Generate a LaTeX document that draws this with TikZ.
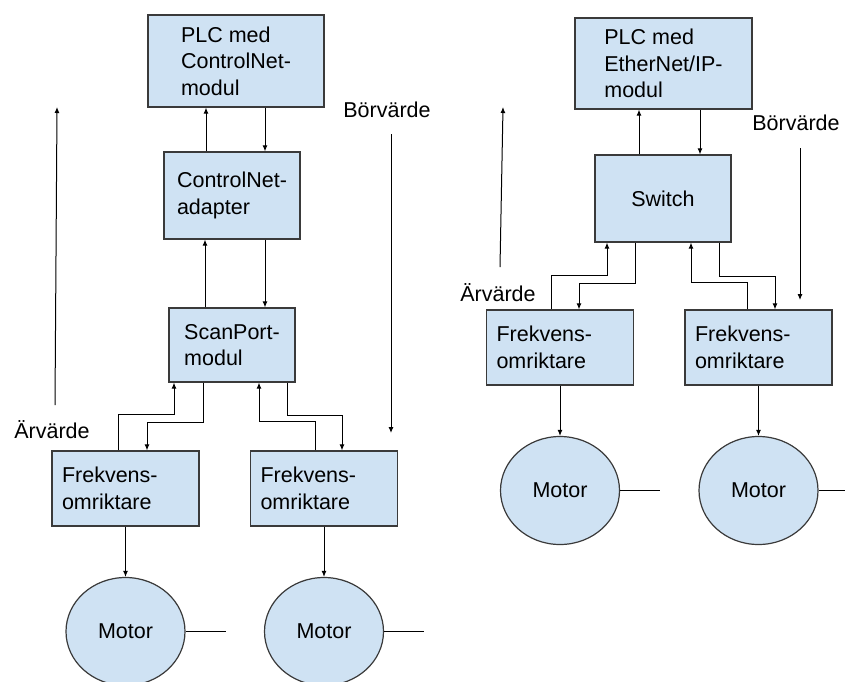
\documentclass[tikz,border=0pt]{standalone}
\usepackage{fontspec}
\setmainfont{Liberation Sans}
\usetikzlibrary{positioning,shapes.geometric,arrows.meta}
\definecolor{boxblue}{HTML}{CFE2F3}
\definecolor{rim}{HTML}{3A3A3A}

\begin{document}
\begin{tikzpicture}[
                            x=1pt, y=1pt,
                            node distance=143pt,
                            >={Latex[length=6pt,width=5pt]},
                            font=\fontsize{21.5pt}{26.5pt}\selectfont,
                            block/.style={draw=rim, fill=boxblue, line width=1.2pt, align=left, inner sep=0pt},
                            frek/.style={block, text width=127pt, inner sep=10pt, minimum height=75pt},
                            motor/.style={draw=rim, fill=boxblue, line width=1.2pt, ellipse, inner sep=0pt, minimum width=119pt, minimum height=108pt},
                            wire/.style={line width=1pt}
                            ]

                            \clip (0,0) rectangle (845,-681);

                            % ControlNet
                            \node [block, minimum width=176pt, minimum height=92pt] (plc1) at (236,-61) {PLC med\\ControlNet-\\modul};
                            \node [block, minimum width=136pt, minimum height=87pt] (adapter) at (232,-195.5) {ControlNet-\\adapter};
                            \node [block, minimum width=126pt, minimum height=74pt] (scan) at (232,-345) {ScanPort-\\modul};

                            \node [frek] (frek1) at (125.5,-488.5) {Frekvens-\\omriktare};
                            \node [frek] (frek2) at (324,-488.5) {Frekvens-\\omriktare};

                            \node [motor, below of = frek1] (motor1) {Motor};
                            \node [motor, below of = frek2] (motor2) {Motor};
                            \coordinate [right=40pt of motor1.east] (shaft1);
                            \coordinate [right=40pt of motor2.east] (shaft2);

                            \node (arv1) at (52,-430) {Ärvärde};
                            \node (borv1) at (387,-110) {Börvärde};
                            \coordinate (up1a) at (55,-405);
                            \coordinate (up1b) at (57,-107);
                            \coordinate (down1a) at (391,-134);
                            \coordinate (down1b) at (391,-433);

                            % EtherNet/IP
                            \node [block, minimum width=177pt, minimum height=91pt] (plc2) at (663.5,-63.5) {PLC med\\EtherNet/IP-\\modul};
                            \node [block, minimum width=136pt, minimum height=87pt] (switch) at (663,-198.5) {Switch};

                            \node [frek] (frek3) at (560,-347.5) {Frekvens-\\omriktare};
                            \node [frek] (frek4) at (758.5,-347.5) {Frekvens-\\omriktare};

                            \node [motor, below of = frek3] (motor3) {Motor};
                            \node [motor, below of = frek4] (motor4) {Motor};
                            \coordinate [right=40pt of motor3.east] (shaft3);
                            \coordinate [right=40pt of motor4.east] (shaft4);

                            \node (arv2) at (498,-293) {Ärvärde};
                            \node (borv2) at (796,-123) {Börvärde};
                            \coordinate (up2a) at (500,-267);
                            \coordinate (up2b) at (503,-107);
                            \coordinate (down2a) at (800,-148);
                            \coordinate (down2b) at (800,-300);

                            \draw[wire,->] ([xshift=-26pt]adapter.north) -- ([xshift=-30pt]plc1.south);
                            \draw[wire,->] ([xshift=29pt]plc1.south) -- ([xshift=33pt]adapter.north);
                            \draw[wire,->] ([xshift=-27pt]scan.north) -- ([xshift=-27pt]adapter.south);
                            \draw[wire,->] ([xshift=33pt]adapter.south) -- ([xshift=33pt]scan.north);
                            \draw[wire,->] ([xshift=-7.5pt]frek1.north) -- ++(0,36) -| ([xshift=-58pt]scan.south);
                            \draw[wire,->] ([xshift=-29pt]scan.south) -- ++(0,-40) -| ([xshift=21.5pt]frek1.north);
                            \draw[wire,->] ([xshift=-9pt]frek2.north) -- ++(0,29) -| ([xshift=27pt]scan.south);
                            \draw[wire,->] ([xshift=55pt]scan.south) -- ++(0,-33) -| ([xshift=18pt]frek2.north);
                            \draw[wire,->] (frek1) -- (motor1);
                            \draw[wire,->] (frek2) -- (motor2);
                            \draw[wire] (motor1) -- (shaft1);
                            \draw[wire] (motor2) -- (shaft2);
                            \draw[wire,->] (up1a) -- (up1b);
                            \draw[wire,->] (down1a) -- (down1b);

                            \draw[wire,->] ([xshift=-24pt]switch.north) -- ([xshift=-24.5pt]plc2.south);
                            \draw[wire,->] ([xshift=36.5pt]plc2.south) -- ([xshift=37pt]switch.north);
                            \draw[wire,->] ([xshift=-9pt]frek3.north) -- ++(0,34) -| ([xshift=-56pt]switch.south);
                            \draw[wire,->] ([xshift=-28pt]switch.south) -- ++(0,-41) -| ([xshift=19pt]frek3.north);
                            \draw[wire,->] ([xshift=-11.5pt]frek4.north) -- ++(0,27) -| ([xshift=28pt]switch.south);
                            \draw[wire,->] ([xshift=56pt]switch.south) -- ++(0,-34) -| ([xshift=16.5pt]frek4.north);
                            \draw[wire,->] (frek3) -- (motor3);
                            \draw[wire,->] (frek4) -- (motor4);
                            \draw[wire] (motor3) -- (shaft3);
                            \draw[wire] (motor4) -- (shaft4);
                            \draw[wire,->] (up2a) -- (up2b);
                            \draw[wire,->] (down2a) -- (down2b);

                        \end{tikzpicture}
\end{document}
